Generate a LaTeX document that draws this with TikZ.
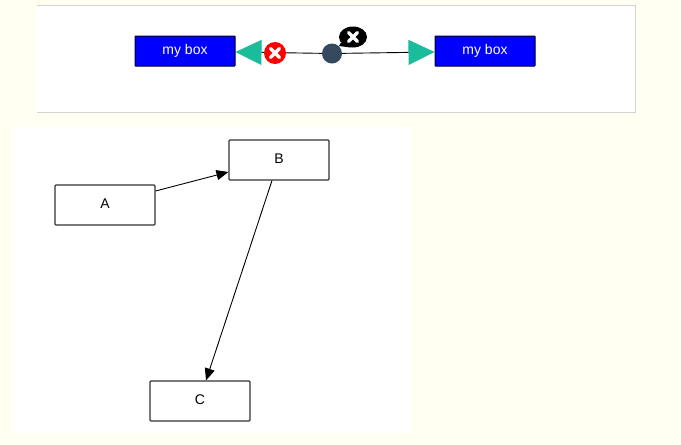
\documentclass[tikz,border=0pt]{standalone}
\usepackage{fontspec}
\setmainfont{Liberation Sans}
\usetikzlibrary{arrows.meta,shapes.geometric,calc}
\definecolor{ivorybg}{HTML}{FFFFF2}
\definecolor{panelline}{HTML}{D3D3D3}
\definecolor{tipteal}{HTML}{1ABC9C}
\definecolor{dotslate}{HTML}{34495E}
\begin{document}
\begin{tikzpicture}[x=1pt, y=-1pt,
    every node/.style={font=\fontsize{14}{16}\selectfont, text height=10pt, text depth=3.6pt},
    bluebox/.style={draw=black!85!blue, fill=blue, text=white, rounded corners=0.5pt, line width=1pt, minimum width=100pt, minimum height=30pt, inner sep=0pt},
    plainbox/.style={draw=black!80, fill=white, rounded corners=1pt, line width=1.1pt, minimum width=100pt, minimum height=40pt, inner sep=0pt},
    crossed/.style={path picture={
        \draw[white, line width=#1, line cap=round]
            ($(path picture bounding box.center)+(-4.5pt,-4.5pt)$) -- ($(path picture bounding box.center)+(4.5pt,4.5pt)$)
            ($(path picture bounding box.center)+(-4.5pt,4.5pt)$) -- ($(path picture bounding box.center)+(4.5pt,-4.5pt)$);}},
    tealedge/.style={black, line width=0.9pt, -{Triangle[length=26pt, width=25pt, color=tipteal]}},
    edge/.style={black, line width=0.9pt, -{Triangle[length=12pt, width=10pt]}}
]

% page and the two panels
\fill[ivorybg] (0,0) rectangle (681,445);
\fill[white] (37,5) rectangle (635,112);
\draw[panelline, line width=0.8pt] (37,5.5) -- (635,5.5) -- (635,112) -- (37,112);
\fill[white] (12,127) rectangle (412,433);

% (1)
\node[bluebox] (box1) at (185,51) {my box};
\node[bluebox] (box2) at (485,51) {my box};
\node[circle, fill=dotslate, minimum size=20pt, inner sep=0pt] (dot) at (332,53.5) {};

\draw[tealedge] (dot) -- ([yshift=-1pt]box1.east);
\draw[tealedge] (dot) -- ([yshift=-1pt]box2.west);

\node[circle, fill=red, minimum size=22pt, inner sep=0pt, crossed=3.2pt] (remove) at (275,53) {};

\node[ellipse, fill=black, minimum width=28pt, minimum height=21pt, inner sep=0pt, crossed=3.2pt] (bubble) at (353,37) {};
\fill[black] (bubble.205) -- (339,46) -- (bubble.255) -- cycle;

% (2)
\node[plainbox] (A) at (105,205) {A};
\node[plainbox] (B) at (279,160) {B};
\node[plainbox] (C) at (200,401) {C};

\draw[edge] ([yshift=14pt]A.east) -- ([yshift=-12pt]B.west);
\draw[edge] ([xshift=-7pt]B.south) -- ([xshift=6pt]C.north);

\end{tikzpicture}
\end{document}
